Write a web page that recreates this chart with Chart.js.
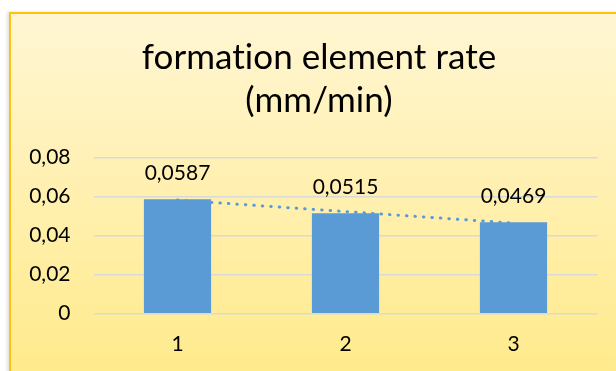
<!DOCTYPE html>
<html>
<head>
<meta charset="utf-8">
<script src="https://cdn.jsdelivr.net/npm/chart.js@4/dist/chart.umd.min.js"></script>
<style>
  html, body { margin: 0; padding: 0; background: #fff; overflow: hidden; }
  #box {
    position: absolute; left: 9px; top: 12px; width: 620px; height: 370px;
    border: 2px solid #FFC20E;
    background: linear-gradient(to bottom, #FFF6D3 0%, #FFEA8A 100%);
    box-shadow: -2px 0 3px rgba(0,0,0,0.12);
  }
  #wrap { position: absolute; left: 0; top: 0; width: 605px; height: 357px; }
</style>
</head>
<body>
<div id="box"><div id="wrap"><canvas id="rate_chart"></canvas></div></div>
<script>
let categories = ['1', '2', '3'];
let rates = [0.0587, 0.0515, 0.0469];
let yTicks = [0, 0.02, 0.04, 0.06, 0.08];
let titleLines = ['formation element rate', '(mm/min)'];

// linear trendline through the bar values (Excel style)
let n = rates.length;
let mx = (n + 1) / 2;
let my = rates.reduce(function(a, b) {return a + b;}, 0) / n;
let sxy = 0, sxx = 0;
rates.forEach(function(v, i) {sxy += (i + 1 - mx) * (v - my); sxx += (i + 1 - mx) * (i + 1 - mx);});
let slope = sxy / sxx;
let trend = rates.map(function(v, i) {return my + slope * (i + 1 - mx);});

let comma = function(v, d) {return v === 0 ? '0' : v.toFixed(d).replace('.', ',');};

let titlePlugin = {
    id: 'titleText',
    afterDraw: function(chart) {
        let ctx = chart.ctx;
        ctx.save();
        ctx.font = '35px Lato';
        ctx.letterSpacing = '0.05px'; // also stops the "ti" ligature
        ctx.fillStyle = '#000';
        ctx.textAlign = 'center';
        ctx.textBaseline = 'alphabetic';
        ctx.fillText(titleLines[0], 308, 55.3);
        ctx.fillText(titleLines[1], 308, 98.3);
        ctx.restore();
    }
};

let labelPlugin = {
    id: 'barLabels',
    afterDatasetsDraw: function(chart) {
        let ctx = chart.ctx;
        let meta = chart.getDatasetMeta(1);
        ctx.save();
        ctx.font = '21px Lato';
        ctx.fillStyle = '#000';
        ctx.textAlign = 'center';
        ctx.textBaseline = 'alphabetic';
        meta.data.forEach(function(bar, i) {
            ctx.fillText(comma(rates[i], 4), bar.x, bar.y - 19);
        });
        ctx.restore();
    }
};

let rateChart = new Chart(document.getElementById('rate_chart'), {
    data: {
        labels: categories,
        datasets: [
            {
                type: 'line',
                data: trend,
                borderColor: '#5B9BD5',
                borderWidth: 3,
                borderDash: [0.5, 8],
                borderCapStyle: 'round',
                pointRadius: 0,
                order: 0
            },
            {
                type: 'bar',
                data: rates,
                backgroundColor: '#5B9BD5',
                categoryPercentage: 1,
                barPercentage: 0.4,
                order: 1
            }
        ]
    },
    options: {
        responsive: true,
        maintainAspectRatio: false,
        animation: false,
        layout: {padding: {top: 143.7, right: 18.5, left: 0, bottom: 0}},
        plugins: {legend: {display: false}, tooltip: {enabled: false}, title: {display: false}},
        scales: {
            x: {
                grid: {display: false},
                border: {display: false},
                ticks: {color: '#000', font: {family: 'Lato', size: 21}, padding: 10},
                afterFit: function(scale) {scale.height = 357 - 299.7;}
            },
            y: {
                min: 0,
                max: 0.08,
                afterBuildTicks: function(scale) {scale.ticks = yTicks.map(function(v) {return {value: v};});},
                grid: {color: '#D9D9D9', lineWidth: 1.5, drawTicks: false},
                border: {display: false},
                ticks: {
                    color: '#000',
                    font: {family: 'Lato', size: 21},
                    padding: 23,
                    callback: function(v) {return comma(v, 2);}
                },
                afterFit: function(scale) {scale.width = 82.5;}
            }
        }
    },
    plugins: [titlePlugin, labelPlugin]
});
</script>
</body>
</html>
